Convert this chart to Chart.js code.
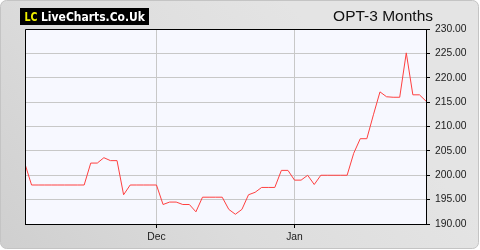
<!DOCTYPE html>
<html>
<head>
<meta charset="utf-8">
<script src="https://cdn.jsdelivr.net/npm/chart.js@4/dist/chart.umd.min.js"></script>
<style>
html,body{margin:0;padding:0;background:#fff;}
#wrap{width:480px;height:250px;}
canvas{display:block;}
</style>
</head>
<body>
<div id="wrap"><canvas id="c" width="480" height="250"></canvas></div>
<script>
// Daily closing prices (trading days)
const prices = [
  202.3, 198.0, 198.0, 198.0, 198.0, 198.0, 198.0, 198.0, 198.0, 198.0,
  202.5, 202.5, 203.6, 203.0, 203.0, 196.0, 198.0, 198.0, 198.0, 198.0,
  198.0, 194.0, 194.5, 194.5, 194.0, 194.0, 192.5, 195.5, 195.5, 195.5,
  195.5, 193.0, 192.0, 193.0, 196.0, 196.5, 197.5, 197.5, 197.5, 201.0,
  201.0, 199.0, 199.0, 200.0, 198.1, 200.0, 200.0, 200.0, 200.0, 200.0,
  204.5, 207.5, 207.5, 212.4, 217.1, 216.1, 216.0, 216.0, 225.1, 216.5,
  216.5, 215.2
];
const monthLabels = ['Dec', 'Jan'];
const monthStartIndex = [20, 41];
const yTicks = [190, 195, 200, 205, 210, 215, 220, 225, 230];
const chartTitle = 'OPT-3 Months';
const logoMark = 'LC';
const logoText = 'LiveCharts.Co.Uk';

// draw bold text squeezed horizontally to a given width, keeping font height
function drawFitted(ctx, text, x, y, width, size) {
  ctx.font = 'bold ' + size + 'px "DejaVu Sans"';
  const w = ctx.measureText(text).width;
  const sx = Math.min(1, width / w);
  ctx.save();
  ctx.translate(x, y);
  ctx.scale(sx, 1);
  ctx.fillText(text, 0, 0);
  ctx.restore();
}

const bgPlugin = {
  id: 'bg',
  beforeDraw(chart) {
    const ctx = chart.ctx, W = chart.width, H = chart.height;
    ctx.save();
    ctx.fillStyle = '#ffffff';
    ctx.fillRect(0, 0, W, H);
    // rounded panel
    const g = ctx.createLinearGradient(0, H, W * 0.6, 0);
    g.addColorStop(0, '#cfcfcf');
    g.addColorStop(0.5, '#dcdcdc');
    g.addColorStop(1, '#e4e4e4');
    ctx.fillStyle = g;
    ctx.beginPath();
    ctx.roundRect(0.5, 0.5, 478, 248, 6);
    ctx.fill();
    ctx.strokeStyle = '#c4c4c4';
    ctx.lineWidth = 1;
    ctx.stroke();
    // plot background
    const a = chart.chartArea;
    ctx.fillStyle = '#f7f8ff';
    ctx.fillRect(a.left, a.top, a.right - a.left, a.bottom - a.top);
    // logo
    ctx.fillStyle = '#000';
    ctx.fillRect(20, 8, 129, 17);
    ctx.textBaseline = 'alphabetic';
    ctx.fillStyle = '#f0f000';
    drawFitted(ctx, logoMark, 24.5, 21, 13, 11.5);
    ctx.fillStyle = '#ffffff';
    drawFitted(ctx, logoText, 41, 21, 104, 11.5);
    // title
    ctx.font = '15.5px "Liberation Sans"';
    ctx.fillStyle = '#111';
    ctx.textAlign = 'right';
    ctx.fillText(chartTitle, 433, 21);
    ctx.restore();
  },
  afterDraw(chart) {
    const ctx = chart.ctx, a = chart.chartArea;
    ctx.save();
    ctx.strokeStyle = '#000';
    ctx.lineWidth = 1;
    ctx.beginPath();
    ctx.moveTo(Math.round(a.left) + 0.5, Math.round(a.bottom) + 0.5);
    ctx.lineTo(Math.round(a.left) + 0.5, Math.round(a.top) + 0.5);
    ctx.lineTo(Math.round(a.right) + 0.5, Math.round(a.top) + 0.5);
    ctx.stroke();
    ctx.restore();
  }
};

new Chart(document.getElementById('c'), {
  type: 'line',
  data: {
    datasets: [{
      data: prices.map((v, i) => ({ x: i, y: v })),
      borderColor: '#ff4040',
      borderWidth: 1,
      pointRadius: 0,
      tension: 0,
      fill: false
    }]
  },
  options: {
    responsive: false,
    animation: false,
    events: [],
    layout: { padding: { left: 25, top: 29, right: 0, bottom: 0 } },
    plugins: { legend: { display: false }, title: { display: false }, tooltip: { enabled: false } },
    scales: {
      x: {
        type: 'linear',
        min: 0,
        max: prices.length - 1,
        afterBuildTicks(s) { s.ticks = monthStartIndex.map(v => ({ value: v })); },
        afterFit(s) { s.height = 26; },
        ticks: {
          autoSkip: false, maxRotation: 0, padding: 3,
          color: '#1a1a1a',
          font: { family: 'Liberation Sans', size: 10.3 },
          callback(v) { const k = monthStartIndex.indexOf(v); return k >= 0 ? monthLabels[k] : ''; }
        },
        grid: { color: '#c8c8c8', tickColor: '#000', tickLength: 4, lineWidth: 1 },
        border: { color: '#000', width: 1 }
      },
      y: {
        position: 'right',
        min: 190,
        max: 230,
        afterBuildTicks(s) { s.ticks = yTicks.map(v => ({ value: v })); },
        afterFit(s) { s.width = 54; },
        ticks: {
          padding: 5,
          color: '#1a1a1a',
          font: { family: 'Liberation Sans', size: 10.3 },
          callback(v) { return Number(v).toFixed(2); }
        },
        grid: { color: '#c8c8c8', tickColor: '#000', tickLength: 4, lineWidth: 1 },
        border: { color: '#000', width: 1 }
      }
    }
  },
  plugins: [bgPlugin]
});
</script>
</body>
</html>
